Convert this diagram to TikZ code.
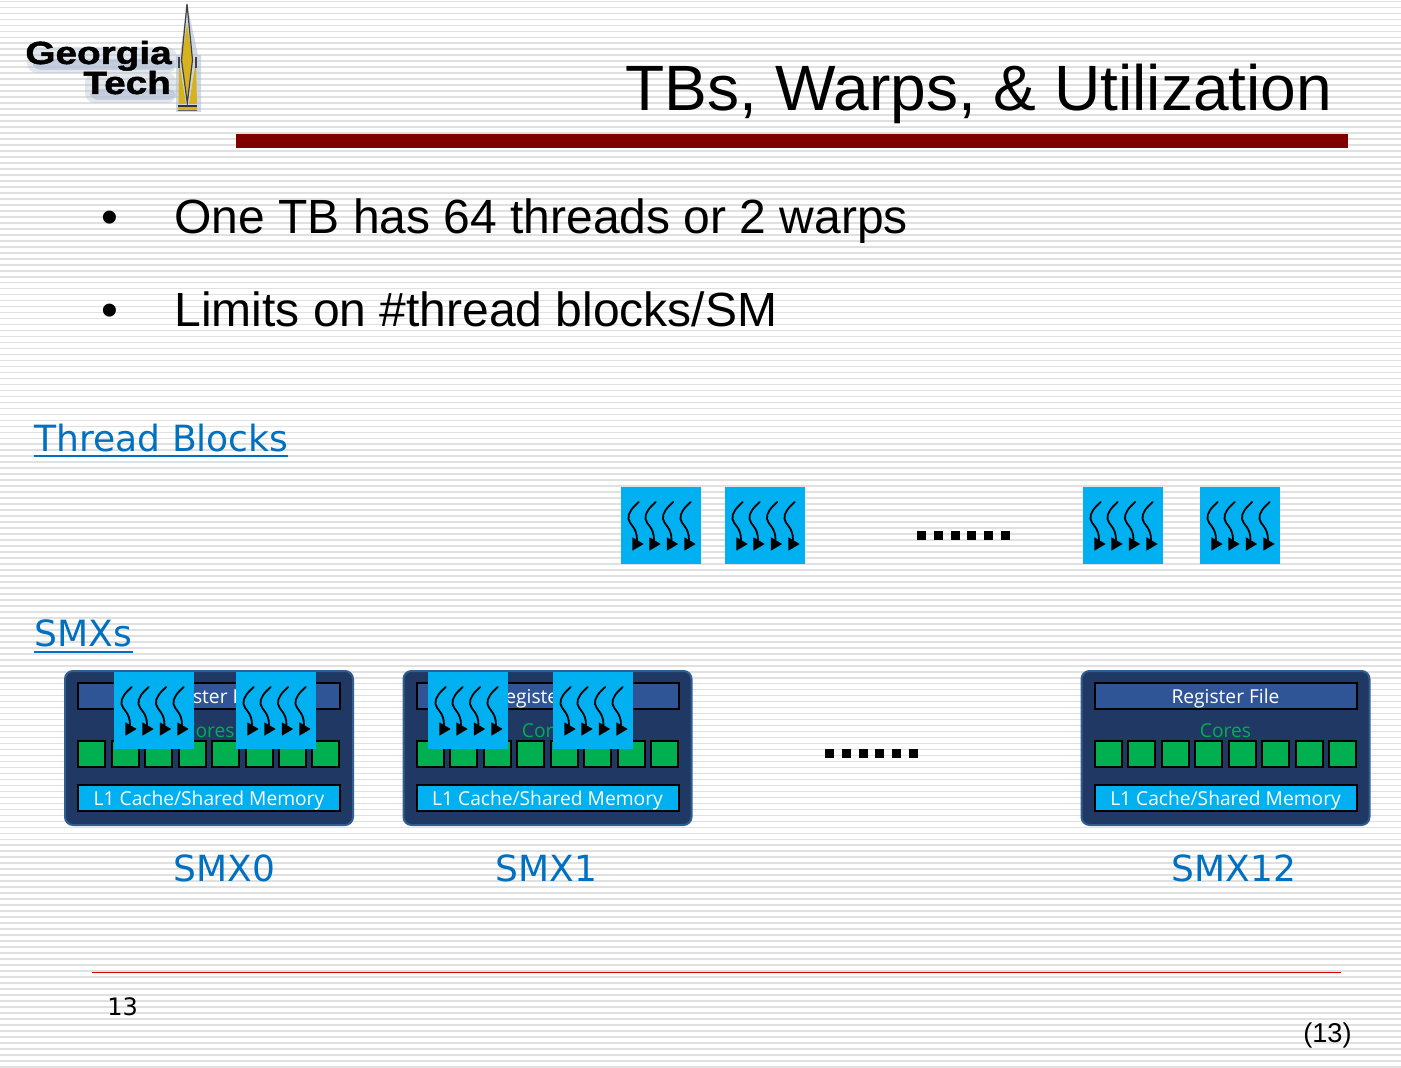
\documentclass[tikz,border=0pt]{standalone}
\usepackage{fontspec}
\setmainfont{Liberation Sans}
\newfontfamily\djfont{DejaVu Sans}
\newfontfamily\uifont{Open Sans}
\newfontfamily\logofont[FakeStretch=1.21,FakeBold=1.5]{Liberation Sans Bold}
\usetikzlibrary{calc}
\definecolor{tbblue}{RGB}{0,176,240}
\definecolor{smxnavy}{RGB}{31,56,100}
\definecolor{smxedge}{RGB}{47,95,143}
\definecolor{regblue}{RGB}{47,85,151}
\definecolor{coregreen}{RGB}{0,176,80}
\definecolor{linkblue}{RGB}{0,112,192}
\definecolor{barred}{RGB}{128,0,0}
\definecolor{stripe}{RGB}{224,224,224}
\definecolor{spire}{RGB}{214,178,30}
\definecolor{logoshade}{RGB}{176,190,212}
\tikzset{
  px/.style={x=0.5pt,y=-0.5pt},
  tbbox/.style={fill=tbblue,draw=none,outer sep=0pt,minimum width=40pt,minimum height=38.5pt,inner sep=0pt,anchor=north west},
  smxbox/.style={fill=smxnavy,draw=smxedge,line width=1pt,outer sep=0pt,rounded corners=4pt,minimum width=144pt,minimum height=77pt,inner sep=0pt,anchor=north west},
  regbar/.style={fill=regblue,draw=black,line width=1pt,outer sep=0pt,minimum width=131pt,minimum height=13pt,inner sep=0pt,anchor=north west,text=white,font=\uifont\fontsize{9.6}{12}\selectfont},
  l1bar/.style={regbar,fill=tbblue},
  core/.style={fill=coregreen,draw=black,line width=1pt,outer sep=0pt,minimum width=13.5pt,minimum height=13pt,inner sep=0pt,anchor=north west},
  corelabel/.style={text=coregreen,font=\uifont\fontsize{9.6}{12}\selectfont,inner sep=0pt},
  heading/.style={text=linkblue,font=\djfont\fontsize{18.05}{22}\selectfont,inner sep=0pt,anchor=base west},
  smxname/.style={text=linkblue,font=\djfont\fontsize{18}{22}\selectfont,inner sep=0pt,anchor=base},
  bullettext/.style={font=\fontsize{24}{28}\selectfont,inner sep=0pt,anchor=base west},
  logotext/.style={inner sep=0pt,anchor=base west,font=\logofont\fontsize{16}{18}\selectfont},
  threadline/.style={line width=0.9pt,line cap=round},
  threadhead/.style={fill=black,draw=none},
  dots/.style={fill=black,draw=none}
}
\newcommand{\threadat}[2]{% x y of the box corner
  \foreach \o in {0,17,34.5,52}{
    \draw[threadline] ({#1+17.7+\o},{#2+15}) .. controls ({#1+12+\o},{#2+20}) and ({#1+6.5+\o},{#2+26}) .. ({#1+7.5+\o},{#2+32})
      .. controls ({#1+8.5+\o},{#2+38}) and ({#1+16+\o},{#2+40}) .. ({#1+16+\o},{#2+53});
    \fill[threadhead] ({#1+11.4+\o},{#2+50.3}) -- ({#1+22.6+\o},{#2+57}) -- ({#1+11.4+\o},{#2+63.7}) -- cycle;
  }}
\newcommand{\tb}[3]{% name x y
  \node[tbbox] (#1) at (#2,#3) {};
  \threadat{#2}{#3}}
\newcommand{\smx}[2]{% name x offset
  \node[smxbox] (#1box) at ({65+#2},671) {};
  \node[regbar] (#1reg) at ({78+#2},683) {\raisebox{-3.9pt}[0pt][0pt]{Register File}};
  \node[corelabel] (#1cores) at ({209+#2},730.5) {Cores};
  \foreach \i in {0,...,7}{
    \node[core] (#1core\i) at ({78.3+\i*33.45+#2},740.5) {};
  }
  \node[l1bar] (#1l1) at ({78+#2},785) {\raisebox{-3.9pt}[0pt][0pt]{L1 Cache/Shared Memory}};}
\newcommand{\dotrow}[2]{% x y
  \foreach \i in {0,...,5}{
    \fill[dots] ({#1+\i*16.8},#2) rectangle ++(9,9);
  }}
\begin{document}
\begin{tikzpicture}[px]
\useasboundingbox (0,0) rectangle (1401,1068);
\fill[white] (0,0) rectangle (1401,1068);
\foreach \i in {0,...,178}{
  \fill[stripe] (0,{0.6+\i*5.985}) rectangle (1401,{2.2+\i*5.985});
}
% logo
\fill[logoshade,opacity=.35,rounded corners=5pt] (27,47) rectangle (177,73);
\fill[logoshade,opacity=.6,rounded corners=4pt] (33,59) rectangle (176,70);
\fill[logoshade,opacity=.35,rounded corners=5pt] (85,73) rectangle (177,103);
\fill[logoshade,opacity=.6,rounded corners=4pt] (90,89) rectangle (176,100);
\node[logotext] (georgia) at (25,64) {Georgia};
\node[logotext] (tech) at (83,94) {Tech};
\fill[logoshade,opacity=.6] (187,4) -- (198,55) -- (201,55) -- (201,112) -- (176,112) -- (176,55) -- (180,55) -- cycle;
\fill[spire] (187,24) -- (192.5,60) -- (187.3,101) -- (181.5,60) -- cycle;
\fill[spire] (179,60) -- (186,104) -- (178.5,104) -- cycle;
\fill[spire] (196,60) -- (189,104) -- (197,104) -- cycle;
\draw[black!75,line width=0.6pt] (187,4) -- (192.5,60) -- (187.3,103) -- (181.5,60) -- cycle;
\draw[black!75,line width=0.6pt] (179,57) -- (179,68);
\draw[black!75,line width=0.6pt] (196,57) -- (196,68);
\fill[black!80] (178,105) rectangle (197,107);
\fill[spire] (178,107) rectangle (197,110);
\fill[black!60] (178,110) rectangle (197,111.5);
% title
\node[inner sep=0pt,anchor=base east,font=\fontsize{32.05}{38}\selectfont] (title) at (1332.5,111) {TBs, Warps, \& Utilization};
\fill[barred] (236,134) rectangle (1348,148);
% bullets
\node[bullettext] (b1m) at (101,234) {•};
\node[bullettext] (b1) at (174,234) {One TB has 64 threads or 2 warps};
\node[bullettext] (b2m) at (101,327) {•};
\node[bullettext] (b2) at (174,327) {Limits on \#thread blocks/SM};
% headings
\node[heading] (hthreads) at (34,452) {Thread Blocks};
\draw[linkblue,line width=1pt] (34,456.5) -- (288,456.5);
\node[heading] (hsmx) at (34,646) {SMXs};
\draw[linkblue,line width=1pt] (34,651.5) -- (133,651.5);
% SMX
\smx{a}{0}
\smx{b}{338.5}
\smx{c}{1016.5}
\tb{ta}{114}{672}
\tb{tb}{236}{672}
\tb{tc}{428}{672}
\tb{td}{553}{672}
\tb{te}{621}{487}
\tb{tf}{725}{487}
\tb{tg}{1083}{487}
\tb{th}{1200}{487}
\dotrow{917}{531}
\dotrow{825}{749}
\node[smxname] (n0) at (224.5,881.5) {SMX0};
\node[smxname] (n1) at (546.5,881.5) {SMX1};
\node[smxname] (n12) at (1234,881.5) {SMX12};
% footer
\draw[red!85!black,line width=0.5pt] (92,972.5) -- (1341,972.5);
\node[inner sep=0pt,anchor=base west,font=\djfont\fontsize{12}{14}\selectfont] (pg) at (107,1015) {13};
\node[inner sep=0pt,anchor=base east,font=\fontsize{13.6}{16}\selectfont] (pg2) at (1352,1042) {(13)};
\end{tikzpicture}
\end{document}
